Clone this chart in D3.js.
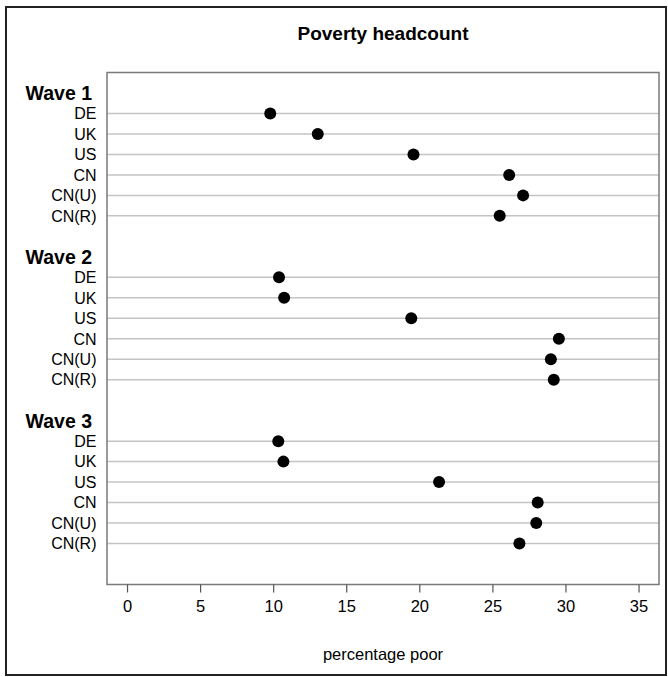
<!DOCTYPE html>
<html>
<head>
<meta charset="utf-8">
<script src="https://cdn.jsdelivr.net/npm/d3@7"></script>
<style>
  html, body { margin: 0; padding: 0; background: #fff; }
  svg { display: block; font-family: "Liberation Sans", Arial, Helvetica, sans-serif; }
</style>
</head>
<body>
<svg id="chart" width="668" height="677"></svg>
<script>
// Poverty headcount by country, three survey waves
const waves = ["Wave 1", "Wave 2", "Wave 3"];
const countries = ["DE", "UK", "US", "CN", "CN(U)", "CN(R)"];
const wave1 = [9.8, 13.05, 19.6, 26.15, 27.1, 25.5];
const wave2 = [10.4, 10.75, 19.45, 29.55, 29.0, 29.2];
const wave3 = [10.35, 10.7, 21.35, 28.1, 28.0, 26.85];
const xTicks = [0, 5, 10, 15, 20, 25, 30, 35];
const xDomain = [-1.37, 36.4];

const waveValues = [wave1, wave2, wave3];

// Row layout: each wave gets a header row, one row per country and a spacer row
const rows = [];
waves.forEach((w, wi) => {
  rows.push({ key: w + "|head", type: "head", label: w });
  countries.forEach((c, ci) => {
    rows.push({ key: w + "|" + c, type: "item", label: c, value: waveValues[wi][ci] });
  });
  rows.push({ key: w + "|gap", type: "gap" });
});

const svg = d3.select("#chart");

const panel = { left: 107, right: 659, top: 72.5, bottom: 584.5 };

const x = d3.scaleLinear().domain(xDomain).range([panel.left, panel.right]);
const y = d3.scalePoint()
  .domain(rows.map(r => r.key))
  .range([panel.top, panel.bottom])
  .padding(1);

// outer frame
svg.append("rect")
  .attr("x", 6).attr("y", 7)
  .attr("width", 660).attr("height", 668)
  .attr("fill", "none")
  .attr("stroke", "#222")
  .attr("stroke-width", 2);

// title
svg.append("text")
  .attr("x", (panel.left + panel.right) / 2)
  .attr("y", 40)
  .attr("text-anchor", "middle")
  .attr("font-weight", "bold")
  .attr("font-size", 19)
  .text("Poverty headcount");

const items = rows.filter(r => r.type === "item");
const heads = rows.filter(r => r.type === "head");

// reference lines for each row
svg.append("g")
  .selectAll("line")
  .data(items)
  .join("line")
  .attr("x1", panel.left).attr("x2", panel.right)
  .attr("y1", d => y(d.key)).attr("y2", d => y(d.key))
  .attr("stroke", "#c4c4c4")
  .attr("stroke-width", 1.5);

// panel border
svg.append("rect")
  .attr("x", panel.left).attr("y", panel.top)
  .attr("width", panel.right - panel.left)
  .attr("height", panel.bottom - panel.top)
  .attr("fill", "none")
  .attr("stroke", "#7a7a7a")
  .attr("stroke-width", 1.5);

// row labels
svg.append("g")
  .selectAll("text")
  .data(items)
  .join("text")
  .attr("x", 96.5)
  .attr("y", d => y(d.key))
  .attr("dy", "0.36em")
  .attr("text-anchor", "end")
  .attr("font-size", 16)
  .text(d => d.label);

// wave headers
svg.append("g")
  .selectAll("text")
  .data(heads)
  .join("text")
  .attr("x", 92)
  .attr("y", d => y(d.key))
  .attr("dy", "0.36em")
  .attr("text-anchor", "end")
  .attr("font-weight", "bold")
  .attr("font-size", 19.5)
  .text(d => d.label);

// points
svg.append("g")
  .selectAll("circle")
  .data(items)
  .join("circle")
  .attr("cx", d => x(d.value))
  .attr("cy", d => y(d.key))
  .attr("r", 6)
  .attr("fill", "#000");

// x axis
const xAxis = d3.axisBottom(x)
  .tickValues(xTicks)
  .tickSize(8)
  .tickPadding(8)
  .tickFormat(d3.format("d"));

const ax = svg.append("g")
  .attr("transform", `translate(0,${panel.bottom})`)
  .call(xAxis);
ax.select(".domain").remove();
ax.selectAll(".tick line").attr("stroke", "#555").attr("stroke-width", 1.2);
ax.selectAll(".tick text")
  .attr("font-size", 16.5)
  .attr("font-family", "Liberation Sans, Arial, sans-serif")
  .attr("fill", "#000");

// axis title
svg.append("text")
  .attr("x", (panel.left + panel.right) / 2)
  .attr("y", 660)
  .attr("text-anchor", "middle")
  .attr("font-size", 16.5)
  .text("percentage poor");
</script>
</body>
</html>
